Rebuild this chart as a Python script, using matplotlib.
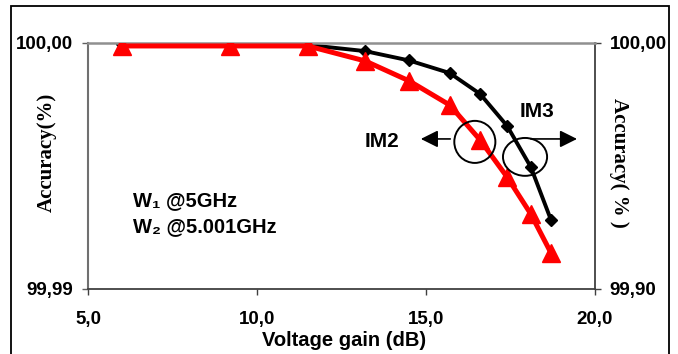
import numpy as np
import matplotlib
matplotlib.use("Agg")
import matplotlib.pyplot as plt
from matplotlib.patches import Ellipse, Rectangle
from matplotlib.ticker import FixedLocator, FuncFormatter

gain = [6.0, 9.2, 11.5, 13.2, 14.5, 15.7, 16.6, 17.4, 18.1, 18.7]
im2 = [99.99988, 99.99988, 99.99988, 99.99927, 99.99846, 99.99748,
       99.99606, 99.99455, 99.99305, 99.99146]
im3 = [99.9996, 99.9994, 99.9992, 99.9967, 99.9929, 99.9878,
       99.9793, 99.9663, 99.9496, 99.9280]

x_ticks = [5.0, 10.0, 15.0, 20.0]
left_ticks = [99.99, 100.00]
right_ticks = [99.90, 100.00]

sans = ['Liberation Sans', 'DejaVu Sans']
serif = ['Liberation Serif', 'DejaVu Serif']

def comma(fmt):
    return FuncFormatter(lambda v, p: format(v, fmt).replace('.', ','))

fig = plt.figure(figsize=(6.78, 3.54), dpi=100)
ax = fig.add_axes([88/678, 1-289/354, 507/678, 246/354])
ax2 = ax.twinx()
ax.set_zorder(ax2.get_zorder() + 1)
ax.patch.set_visible(False)

ax2.plot(gain, im3, color='black', lw=2.8, marker='D', ms=6.5, zorder=3)
ax.plot(gain, im2, color='red', lw=3.6, marker='^', ms=12.5, zorder=3)

ax.set_xlim(5, 20)
ax.set_ylim(99.99, 100.00)
ax2.set_ylim(99.90, 100.00)

ax.xaxis.set_major_locator(FixedLocator(x_ticks))
ax.xaxis.set_major_formatter(comma('.1f'))
ax.yaxis.set_major_locator(FixedLocator(left_ticks))
ax.yaxis.set_major_formatter(comma('.2f'))
ax2.yaxis.set_major_locator(FixedLocator(right_ticks))
ax2.yaxis.set_major_formatter(comma('.2f'))

for a in (ax, ax2):
    for lab in a.get_xticklabels() + a.get_yticklabels():
        lab.set_family(sans)
        lab.set_fontweight('bold')
        lab.set_fontsize(13.5)

ax.tick_params(axis='x', direction='out', length=4.5, width=1, color='#404040', pad=11)
ax.tick_params(axis='y', direction='out', length=4.5, width=1, color='#606060', pad=6)
ax2.tick_params(axis='y', direction='out', length=4.5, width=1, color='#404040', pad=6)

ax.spines['top'].set_color('#909090')
ax.spines['top'].set_linewidth(1.8)
ax.spines['left'].set_color('#707070')
ax.spines['left'].set_linewidth(1.5)
ax.spines['bottom'].set_color('#404040')
ax.spines['bottom'].set_linewidth(1.3)
ax.spines['right'].set_visible(False)
for s in ('top', 'left', 'bottom'):
    ax2.spines[s].set_visible(False)
ax2.spines['right'].set_color('#404040')
ax2.spines['right'].set_linewidth(1.3)

ax.set_xlabel('Voltage gain (dB)', family=sans, fontweight='bold', fontsize=14.5)
ax.xaxis.set_label_coords(0.505, -0.211)
ax.xaxis.label.set_va('center')
ax.set_ylabel('Accuracy(%)', family=serif, fontweight='bold', fontsize=15)
ax.yaxis.set_label_coords(-0.081, 0.557)
ax.yaxis.label.set_va('center')
ax2.set_ylabel('Accuracy( % )', family=serif, fontweight='bold', fontsize=15, rotation=270)
ax2.yaxis.set_label_coords(1.047, 0.512)
ax2.yaxis.label.set_va('center')

# annotations
ax.add_patch(Ellipse((0.763, 0.598), 0.081, 0.171, transform=ax.transAxes,
                     fill=False, ec='black', lw=1.4, zorder=5))
ax.add_patch(Ellipse((0.862, 0.537), 0.087, 0.154, transform=ax.transAxes,
                     fill=False, ec='black', lw=1.4, zorder=5))
arrow = dict(arrowstyle='-|>', mutation_scale=26, lw=1.2, color='black')
ax.annotate('', xy=(0.651, 0.610), xytext=(0.720, 0.610),
            xycoords='axes fraction', arrowprops=arrow)
ax.annotate('', xy=(0.970, 0.610), xytext=(0.868, 0.610),
            xycoords='axes fraction', arrowprops=arrow)
ax.text(0.580, 0.598, 'IM2', transform=ax.transAxes, family=sans,
        fontweight='bold', fontsize=15, ha='center', va='center')
ax.text(0.886, 0.720, 'IM3', transform=ax.transAxes, family=sans,
        fontweight='bold', fontsize=15, ha='center', va='center')
ax.text(0.089, 0.358, 'W\u2081 @5GHz', transform=ax.transAxes, family=sans,
        fontweight='bold', fontsize=14.5, ha='left', va='center')
ax.text(0.089, 0.252, 'W\u2082 @5.001GHz', transform=ax.transAxes, family=sans,
        fontweight='bold', fontsize=14.5, ha='left', va='center')

# outer frame
fig.patches.append(Rectangle((11/678, -0.1), 658/678, 1.1 - 6/354,
                             transform=fig.transFigure, fill=False,
                             ec='black', lw=1.3))

plt.savefig('out.png', dpi=100)
